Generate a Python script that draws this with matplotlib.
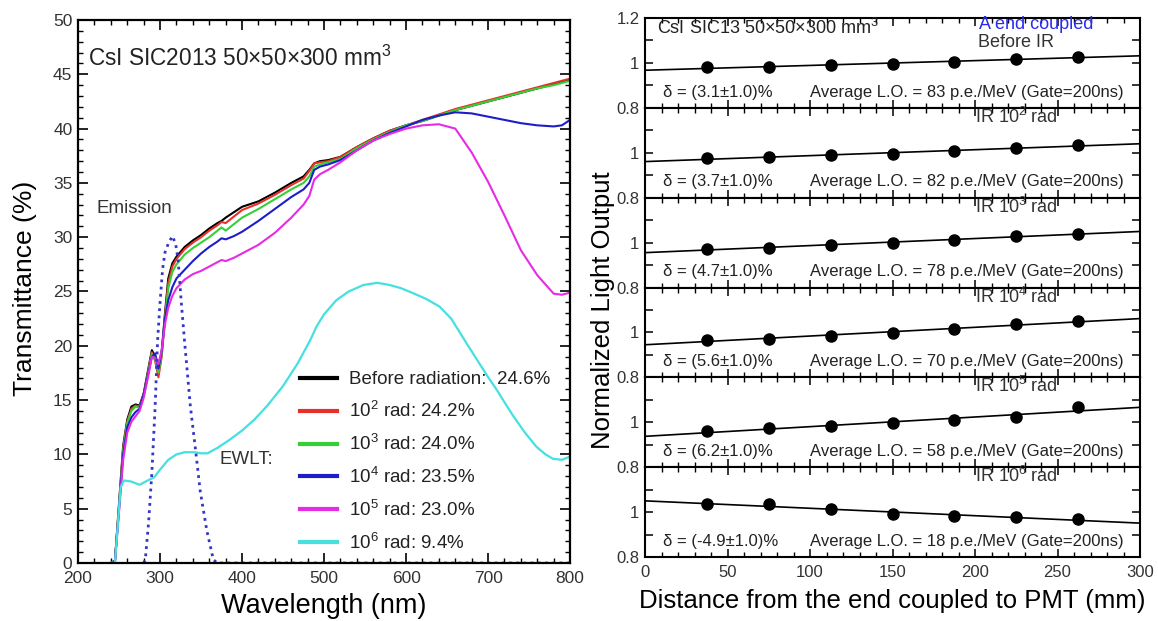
import numpy as np
import matplotlib
matplotlib.use('Agg')
import matplotlib.pyplot as plt
from matplotlib.ticker import MultipleLocator, FixedLocator, FixedFormatter
from matplotlib.lines import Line2D

plt.rcParams['font.family'] = ['Liberation Sans', 'DejaVu Sans']
plt.rcParams['mathtext.fontset'] = 'custom'
plt.rcParams['mathtext.rm'] = 'Liberation Sans'
plt.rcParams['mathtext.it'] = 'Liberation Sans:italic'
plt.rcParams['mathtext.bf'] = 'Liberation Sans:bold'

# ---- left panel: transmittance vs wavelength ----
wl = [240, 245, 250, 255, 260, 265, 270, 275, 280, 285,
      290, 294, 298, 302, 306, 310, 315, 320, 330, 340,
      350, 360, 370, 375, 380, 390, 400, 420, 440, 460,
      475, 482, 488, 495, 505, 520, 540, 560, 580, 600,
      620, 640, 660, 680, 700, 720, 740, 760, 780, 790, 800]
t_before = [0, 0.2, 5.5, 10.8, 13.2, 14.4, 14.6, 14.5, 15.6, 17.6,
            19.6, 19.0, 17.7, 19.4, 23.0, 26.2, 27.6, 28.2, 29.1, 29.7,
            30.2, 30.8, 31.3, 31.5, 31.8, 32.3, 32.8, 33.3, 34.1, 35.0,
            35.6, 36.2, 36.8, 37.0, 37.1, 37.4, 38.3, 39.1, 39.8, 40.3,
            40.7, 41.2, 41.7, 42.1, 42.5, 42.9, 43.3, 43.7, 44.1, 44.3, 44.5]
t_1e2 = [0, 0.2, 5.3, 10.5, 13.0, 14.2, 14.5, 14.4, 15.5, 17.4,
         19.4, 18.6, 17.1, 19.0, 22.6, 25.8, 27.3, 28.0, 28.9, 29.5,
         30.0, 30.6, 31.1, 31.4, 31.3, 31.9, 32.5, 33.1, 33.9, 34.8,
         35.4, 36.1, 36.8, 36.9, 37.0, 37.4, 38.3, 39.1, 39.8, 40.3,
         40.8, 41.3, 41.8, 42.2, 42.6, 43.0, 43.4, 43.8, 44.2, 44.4, 44.6]
t_1e3 = [0, 0.2, 5.2, 10.4, 12.9, 14.0, 14.4, 14.3, 15.4, 17.3,
         19.3, 18.8, 17.5, 19.2, 22.5, 25.3, 26.8, 27.5, 28.4, 29.0,
         29.5, 30.0, 30.6, 30.9, 30.6, 31.2, 31.8, 32.6, 33.5, 34.4,
         35.0, 35.6, 36.5, 36.7, 36.9, 37.2, 38.2, 39.0, 39.7, 40.3,
         40.7, 41.2, 41.7, 42.1, 42.5, 42.9, 43.3, 43.7, 44.0, 44.2, 44.4]
t_1e4 = [0, 0.2, 5.0, 10.0, 12.5, 13.4, 13.9, 14.2, 15.5, 17.2,
         19.0, 19.3, 17.9, 19.5, 22.5, 24.2, 25.4, 26.2, 27.0, 27.8,
         28.5, 29.1, 29.6, 29.9, 29.8, 30.1, 30.5, 31.5, 32.6, 33.7,
         34.4, 35.0, 36.2, 36.5, 36.7, 37.1, 38.0, 38.9, 39.6, 40.2,
         40.8, 41.2, 41.5, 41.4, 41.1, 40.8, 40.5, 40.3, 40.2, 40.3, 40.8]
t_1e5 = [0, 0.1, 4.8, 9.5, 12.0, 13.0, 13.5, 14.0, 15.2, 17.0,
         19.0, 18.9, 18.3, 19.6, 22.0, 23.5, 24.6, 25.3, 26.1, 26.6,
         26.9, 27.3, 27.7, 27.9, 27.8, 28.1, 28.5, 29.3, 30.4, 31.8,
         33.0, 33.8, 35.3, 35.8, 36.2, 36.9, 38.0, 38.9, 39.5, 40.0,
         40.3, 40.4, 40.0, 37.8, 35.1, 32.0, 28.8, 26.5, 24.8, 24.7, 24.9]

wl_1e6 = [240, 245, 248, 252, 256, 265, 275, 285, 293, 300,
          310, 320, 330, 342, 350, 358, 370, 384, 400, 415,
          431, 450, 468, 483, 491, 500, 515, 530, 548, 565,
          580, 594, 610, 625, 641, 655, 665, 674, 690, 701,
          711, 720, 731, 745, 759, 770, 779, 790, 800]
t_1e6 = [0, 0, 3.0, 7.0, 7.6, 7.5, 7.2, 7.6, 7.9, 8.6,
         9.5, 10.0, 10.2, 10.2, 10.1, 10.1, 10.6, 11.3, 12.2, 13.2,
         14.5, 16.3, 18.4, 20.5, 21.8, 22.9, 24.2, 25.0, 25.6, 25.8,
         25.6, 25.3, 24.8, 24.3, 23.6, 22.5, 21.3, 20.2, 18.3, 17.0,
         15.9, 14.8, 13.5, 12.0, 10.7, 10.0, 9.6, 9.5, 9.8]

wl_em = [280, 282, 286, 290, 294, 297, 300, 303, 306, 310, 315,
         319, 322, 326, 330, 337, 343, 349, 357, 365, 370, 800]
emission = [0, 0.3, 3.7, 8.3, 14.4, 20.5, 24.0, 27.0, 28.6, 29.4, 30.1,
            29.4, 27.9, 23.9, 20.3, 14.4, 10.6, 6.6, 3.0, 0.3, 0, 0]

labels_t = ['Before radiation:  24.6%', '10$^2$ rad: 24.2%', '10$^3$ rad: 24.0%',
            '10$^4$ rad: 23.5%', '10$^5$ rad: 23.0%', '10$^6$ rad: 9.4%']
colors_t = ['black', '#e8302a', '#35d035', '#1e1ec8', '#e62ae6', '#45e0e0']

# ---- right panel: light output uniformity ----
lo_x = [37.5, 75, 112.5, 150, 187.5, 225, 262.5]
lo_vals = [
    [0.980, 0.983, 0.990, 0.996, 1.003, 1.017, 1.028],
    [0.975, 0.981, 0.988, 0.996, 1.007, 1.022, 1.034],
    [0.971, 0.978, 0.988, 1.000, 1.012, 1.029, 1.039],
    [0.966, 0.973, 0.985, 0.999, 1.015, 1.036, 1.050],
    [0.960, 0.973, 0.983, 0.997, 1.009, 1.024, 1.068],
    [1.037, 1.035, 1.012, 0.990, 0.982, 0.980, 0.968],
]
strip_titles = ['Before IR', 'IR 10$^2$ rad', 'IR 10$^3$ rad',
                'IR 10$^4$ rad', 'IR 10$^5$ rad', 'IR 10$^6$ rad']
deltas = ['3.1', '3.7', '4.7', '5.6', '6.2', '-4.9']
avg_lo = [83, 82, 78, 70, 58, 18]

tick_col = '#333333'

fig = plt.figure(figsize=(11.58, 6.21), dpi=100)

ax = fig.add_axes([0.0674, 0.0934, 0.4249, 0.8744])
series = [t_before, t_1e2, t_1e3, t_1e4, t_1e5]
for vals, c in zip(series, colors_t[:5]):
    ax.plot(wl, vals, color=c, lw=1.5)
ax.plot(wl_1e6, t_1e6, color=colors_t[5], lw=1.6)
ax.plot(wl_em, emission, color='#3535c8', lw=2, ls=(0, (1, 1.6)))

ax.set_xlim(200, 800)
ax.set_ylim(0, 50)
ax.xaxis.set_major_locator(MultipleLocator(100))
ax.xaxis.set_minor_locator(MultipleLocator(20))
ax.yaxis.set_major_locator(MultipleLocator(5))
ax.yaxis.set_minor_locator(MultipleLocator(1))
ax.tick_params(which='both', direction='in', top=True, right=True,
               labelsize=12.5, labelcolor=tick_col, pad=4)
ax.tick_params(axis='x', pad=6)
ax.tick_params(which='major', length=7, width=1.2)
ax.tick_params(which='minor', length=3.5, width=1)
for s in ax.spines.values():
    s.set_linewidth(1.6)

ax.text(212, 46.5, 'CsI SIC2013 50×50×300 mm$^3$', fontsize=16.3, va='center', color='#222222')
ax.text(222, 32.6, 'Emission', fontsize=13.5, va='center', color='#333333')
ax.text(373, 9.5, 'EWLT:', fontsize=13.5, va='center', color='#333333')

handles = [Line2D([], [], color=c, lw=3) for c in colors_t]
ax.legend(handles, labels_t, loc='upper left', bbox_to_anchor=(0.452, 0.353),
          frameon=False, fontsize=13.5, handlelength=1.95, handletextpad=0.65,
          labelspacing=0.68, borderpad=0, borderaxespad=0, labelcolor='#222222')

ax.set_xlabel('Wavelength (nm)', fontsize=19.5, labelpad=5)
fig.text(0.022, 0.535, 'Transmittance (%)', rotation=90, fontsize=19,
         ha='center', va='center')

gs = fig.add_gridspec(6, 1, left=0.557, right=0.9845, top=0.971, bottom=0.103, hspace=0)
axs = []
for i in range(6):
    a = fig.add_subplot(gs[i], sharex=axs[0] if axs else None)
    axs.append(a)
    vals = lo_vals[i]
    a.plot(lo_x, vals, 'o', color='black', ms=8)
    k, b = np.polyfit(lo_x, vals, 1)
    xf = np.array([0, 300])
    a.plot(xf, k * xf + b, color='black', lw=1.2)
    a.set_ylim(0.8, 1.2)
    a.set_xlim(0, 300)
    a.yaxis.set_major_locator(FixedLocator([0.8, 0.9, 1.0, 1.1, 1.2]))
    a.yaxis.set_major_formatter(FixedFormatter(['0.8', '', '1', '', '1.2' if i == 0 else '']))
    a.xaxis.set_major_locator(MultipleLocator(50))
    a.xaxis.set_minor_locator(MultipleLocator(10))
    a.tick_params(which='both', direction='in', top=True, right=True,
                  labelsize=12, labelcolor=tick_col, pad=4)
    a.tick_params(axis='x', pad=6)
    a.tick_params(which='major', length=6, width=1.1)
    a.tick_params(which='minor', length=3.5, width=1)
    if i < 5:
        a.tick_params(labelbottom=False)
    for s in a.spines.values():
        s.set_linewidth(1.5)
    a.text(11, 0.87, 'δ = (' + deltas[i] + '±1.0)%', fontsize=12, va='center', color='#222222')
    a.text(100, 0.87, 'Average L.O. = %d p.e./MeV (Gate=200ns)' % avg_lo[i],
           fontsize=12, va='center', color='#222222')
    if i == 0:
        a.text(225, 1.092, strip_titles[i], fontsize=13, ha='center', va='center', color='#333333')
    else:
        a.text(225, 1.16, strip_titles[i], fontsize=13, ha='center', va='center', color='#333333')

axs[0].text(7, 1.155, 'CsI SIC13 50×50×300 mm$^3$', fontsize=13, va='center', color='#222222')
axs[0].text(237, 1.17, 'A end coupled', fontsize=13, ha='center', va='center', color='#2a2af0')
axs[-1].set_xlabel('Distance from the end coupled to PMT (mm)', fontsize=18.5, labelpad=6)
fig.text(0.521, 0.500, 'Normalized Light Output', rotation=90, fontsize=18.5,
         ha='center', va='center')

fig.savefig('out.png', dpi=100)
